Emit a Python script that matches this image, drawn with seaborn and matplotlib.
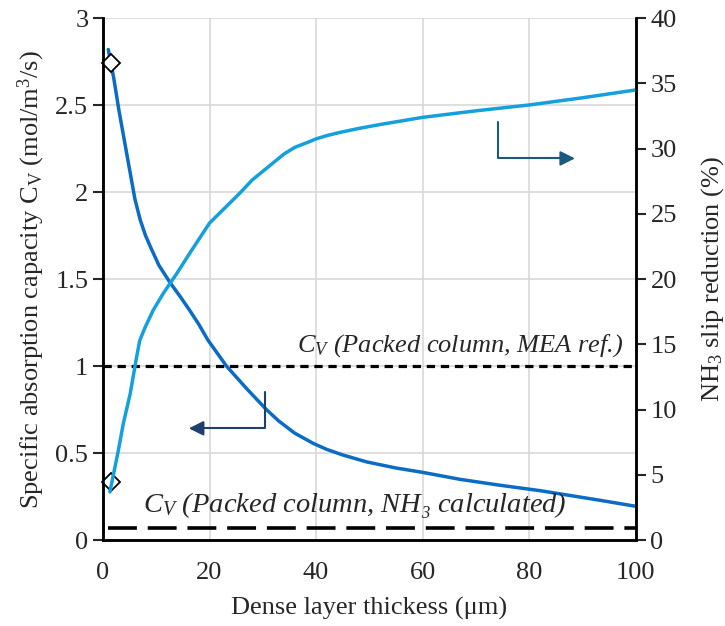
import numpy as np
import pandas as pd
import seaborn as sns
import matplotlib
import matplotlib.pyplot as plt

matplotlib.use("Agg")

# Specific absorption capacity (left axis)
x_cv = [1.0, 2.0, 3.0, 4.0, 5.0, 6.0, 7.0, 8.0, 9.0, 10.5, 12.6, 14.5, 16.3,
        18.0, 19.7, 23.2, 27.0, 30.7, 33.0, 36.0, 39.5, 42.0, 45.0, 49.5,
        55.0, 60.0, 67.0, 74.5, 82.0, 93.2, 100.0]
cv = [2.82, 2.66, 2.47, 2.30, 2.13, 1.96, 1.84, 1.75, 1.68, 1.58, 1.48, 1.40,
      1.32, 1.24, 1.15, 1.00, 0.87, 0.75, 0.685, 0.615, 0.556, 0.522, 0.49,
      0.45, 0.415, 0.39, 0.35, 0.316, 0.285, 0.23, 0.195]

# NH3 slip reduction (right axis, %)
x_slip = [1.3, 2.9, 3.8, 5.1, 6.3, 6.9, 7.9, 9.4, 11.3, 13.8, 16.3, 20.0,
          25.7, 28.0, 31.9, 34.0, 36.0, 38.2, 40.0, 42.0, 44.5, 48.0, 52.0,
          60.0, 70.0, 80.0, 90.0, 100.0]
slip = [3.7, 6.9, 8.9, 11.2, 14.0, 15.3, 16.3, 17.6, 18.9, 20.4, 22.0, 24.3,
        26.6, 27.6, 28.9, 29.6, 30.1, 30.45, 30.75, 31.0, 31.25, 31.55, 31.85,
        32.4, 32.9, 33.35, 33.9, 34.5]

# reference markers and packed-column levels
marker_x = [1.6, 1.6]
marker_y = [2.74, 0.335]
cv_mea_ref = 1.0
cv_nh3_calc = 0.07

df_cv = pd.DataFrame({"x": x_cv, "y": cv})
df_slip = pd.DataFrame({"x": x_slip, "y": slip})

sns.set_style("white")
plt.rcParams["font.family"] = ["Liberation Serif", "DejaVu Serif"]
plt.rcParams["mathtext.fontset"] = "custom"
plt.rcParams["mathtext.rm"] = "Liberation Serif"
plt.rcParams["mathtext.it"] = "Liberation Serif:italic"

fig, ax = plt.subplots(figsize=(7.25, 6.26), dpi=100)
fig.subplots_adjust(left=0.142, right=0.877, bottom=0.137, top=0.971)
ax2 = ax.twinx()

# grid
ax.set_axisbelow(True)
ax.grid(True, color="#d9d9d9", linewidth=1.2)

# reference lines
ax.plot([0, 100], [cv_mea_ref, cv_mea_ref], color="black", linewidth=2.3,
        dashes=(2.6, 1.8))
ax.plot([1, 100], [cv_nh3_calc, cv_nh3_calc], color="black", linewidth=2.6,
        dashes=(8, 3))

# curves
sns.lineplot(data=df_cv, x="x", y="y", ax=ax, color="#0A6CC4", linewidth=2.5)
sns.lineplot(data=df_slip, x="x", y="y", ax=ax2, color="#14A0DC", linewidth=2.5)

ax.plot(marker_x, marker_y, linestyle="none", marker="D", markersize=9,
        markerfacecolor="white", markeredgecolor="black", markeredgewidth=1.3,
        zorder=5, clip_on=False)

# arrows indicating which axis each curve belongs to
ax.plot([30.5, 30.5, 17.0], [0.852, 0.643, 0.643], color="#1F3F6E", linewidth=1.5)
ax.annotate("", xy=(15.6, 0.643), xytext=(18.5, 0.643),
            arrowprops=dict(arrowstyle="-|>", color="#1F3F6E", lw=1.5,
                            mutation_scale=22))
ax.plot([74.2, 74.2, 87.5], [2.404, 2.194, 2.194], color="#1A5A7E", linewidth=1.5)
ax.annotate("", xy=(89.1, 2.194), xytext=(86.0, 2.194),
            arrowprops=dict(arrowstyle="-|>", color="#1A5A7E", lw=1.5,
                            mutation_scale=22))

# annotations
ax.text(36.4, 1.085, "$C_V$ (Packed column, MEA ref.)", fontsize=19,
        style="italic", ha="left", va="baseline")
ax.text(7.5, 0.165, "$C_V$ (Packed column, NH\u2083 calculated)", fontsize=20.5,
        style="italic", ha="left", va="baseline")

# axes
ax.set_xlim(0, 100)
ax.set_ylim(0, 3)
ax2.set_ylim(0, 40)
ax.set_xticks([0, 20, 40, 60, 80, 100])
ax.set_yticks(np.arange(0, 3.01, 0.5))
ax.set_yticklabels(["0", "0.5", "1", "1.5", "2", "2.5", "3"])
ax2.set_yticks(range(0, 41, 5))

ax.set_xlabel("Dense layer thickess (\u03bcm)", fontsize=19, labelpad=9)
ax.set_ylabel("Specific absorption capacity C$_\\mathrm{V}$ (mol/m$^3$/s)",
              fontsize=19, labelpad=6)
ax2.set_ylabel("NH$_3$ slip reduction (%)", fontsize=19, labelpad=16)

for a in (ax, ax2):
    for side in ("left", "right", "bottom"):
        a.spines[side].set_color("black")
        a.spines[side].set_linewidth(1.8)
    a.spines["top"].set_visible(False)

ax.tick_params(axis="x", direction="inout", length=12, width=1.5,
               labelsize=19, pad=10)
ax.tick_params(axis="y", direction="out", length=7, width=1.5, labelsize=19)
ax2.tick_params(axis="y", direction="out", length=7, width=1.5, labelsize=19)
ax2.grid(False)
ax2.set_xlabel("")

fig.savefig("out.png", dpi=100)
